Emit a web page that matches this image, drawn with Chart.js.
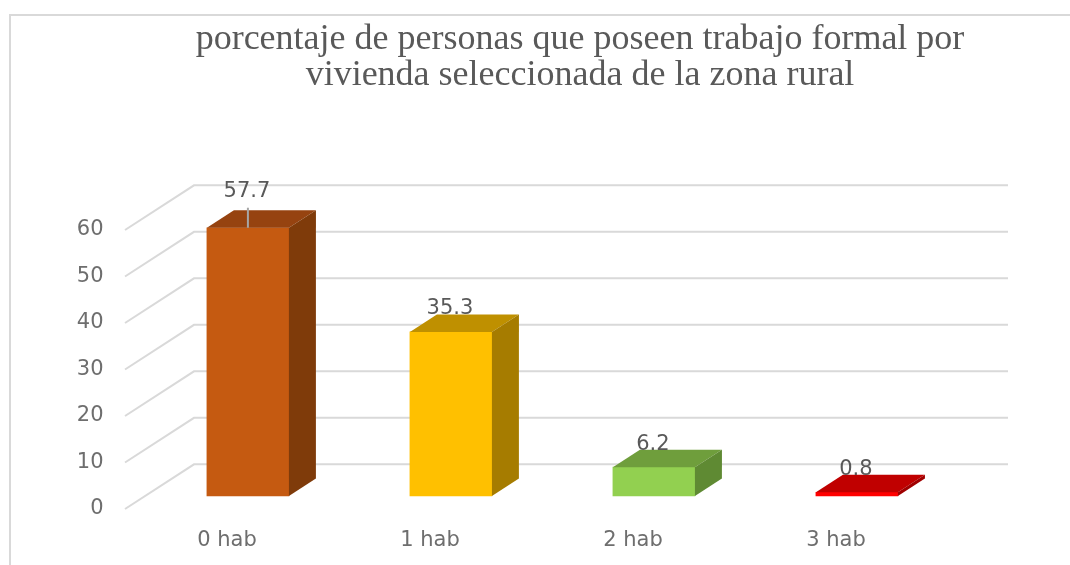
<!DOCTYPE html>
<html><head><meta charset="utf-8">
<style>html,body{margin:0;padding:0;background:#fff;overflow:hidden}canvas{display:block}</style>
<script src="https://cdn.jsdelivr.net/npm/chart.js@4"></script></head>
<body><canvas id="c" width="1070" height="565"></canvas>
<script>
const titleLines = ['porcentaje de personas que poseen trabajo formal por','vivienda seleccionada de la zona rural'];
const categories = ['0 hab','1 hab','2 hab','3 hab'];
const values = [57.7,35.3,6.2,0.8];
const valueLabels = ['57.7','35.3','6.2','0.8'];
const tickValues = [0,10,20,30,40,50,60];
const frontColors = ['#c55a11','#ffc000','#92d050','#ff0000'];
const topColors = ['#964310','#bf9000','#6f9e3c','#c00000'];
const sideColors = ['#7f3b0a','#a67c00','#5f8a33','#a00000'];

const depth = {dx:27, dy:17.5};
const wall = {dx:69, dy:44.7, right:1008};
const gridColor = '#d9d9d9';

const scene = {
  id:'scene',
  beforeDraw(chart){
    const c = chart.ctx; c.save();
    c.fillStyle='#fff'; c.fillRect(0,0,chart.width,chart.height);
    c.strokeStyle=gridColor; c.lineWidth=2;
    c.beginPath(); c.moveTo(10,565); c.lineTo(10,15); c.lineTo(1070,15); c.stroke();
    c.restore();
  },
  beforeDatasetsDraw(chart){
    const c = chart.ctx, s = chart.scales.yTicks, left = chart.chartArea.left - 0.5;
    c.save(); c.strokeStyle=gridColor; c.lineWidth=2;
    tickValues.forEach(v=>{
      const y = s.getPixelForValue(v);
      c.beginPath(); c.moveTo(left,y); c.lineTo(left+wall.dx,y-wall.dy); c.lineTo(wall.right,y-wall.dy); c.stroke();
    });
    c.restore();
  },
  afterDatasetsDraw(chart){
    const c = chart.ctx;
    c.save();
    chart.getDatasetMeta(0).data.forEach((b,i)=>{
      const l=b.x-b.width/2, r=b.x+b.width/2, t=b.y, bt=b.base;
      c.fillStyle=topColors[i];
      c.beginPath(); c.moveTo(l,t); c.lineTo(l+depth.dx,t-depth.dy); c.lineTo(r+depth.dx,t-depth.dy); c.lineTo(r,t); c.closePath(); c.fill();
      c.fillStyle=sideColors[i];
      c.beginPath(); c.moveTo(r,t); c.lineTo(r+depth.dx,t-depth.dy); c.lineTo(r+depth.dx,bt-depth.dy); c.lineTo(r,bt); c.closePath(); c.fill();
    });
    c.font='21px "DejaVu Sans"'; c.fillStyle='#595959'; c.textAlign='center'; c.textBaseline='middle';
    chart.getDatasetMeta(0).data.forEach((b,i)=>{
      const hasLeader = i===0;
      if(hasLeader){
        c.strokeStyle='#a6a6a6'; c.lineWidth=2;
        c.beginPath(); c.moveTo(b.x,b.y); c.lineTo(b.x,b.y-20); c.stroke();
      }
      c.fillText(valueLabels[i], b.x-1, b.y-(hasLeader?36:23));
    });
    c.restore();
  }
};

new Chart(document.getElementById('c'),{
  type:'bar',
  data:{labels:categories,datasets:[{
    data:values.map((v,i)=>({x:i,y:v})),
    backgroundColor:frontColors,
    borderWidth:0,
    barThickness:82,
    clip:false,
    xAxisID:'xBars',yAxisID:'y'
  }]},
  plugins:[scene],
  options:{
    responsive:false,animation:false,
    layout:{padding:{left:65,right:-25,top:0,bottom:0}},
    plugins:{
      legend:{display:false},tooltip:{enabled:false},
      title:{display:true,text:titleLines,color:'#595959',
        font:{family:'"Liberation Serif"',size:36,weight:'normal',lineHeight:1},
        padding:{top:22,bottom:136}}
    },
    scales:{
      x:{type:'category',axis:'x',position:'bottom',offset:true,
        grid:{display:false},border:{display:false},
        ticks:{color:'#6e6e6e',font:{family:'"DejaVu Sans"',size:21},padding:11,maxRotation:0,autoSkip:false},
        afterFit(s){s.height=56}},
      xBars:{type:'linear',axis:'x',display:false,offset:false,min:-0.603,max:3.397},
      yTicks:{type:'linear',axis:'y',position:'left',min:0,max:60,
        grid:{display:false},border:{display:false},
        ticks:{stepSize:10,color:'#6e6e6e',font:{family:'"DejaVu Sans"',size:21},padding:14},
        afterFit(s){s.width=60.5}},
      y:{type:'linear',axis:'y',position:'right',min:-2.79,max:57.21,
        grid:{display:false},border:{display:false},ticks:{display:false},
        afterFit(s){s.width=157.5}}
    }
  }
});
</script></body></html>
